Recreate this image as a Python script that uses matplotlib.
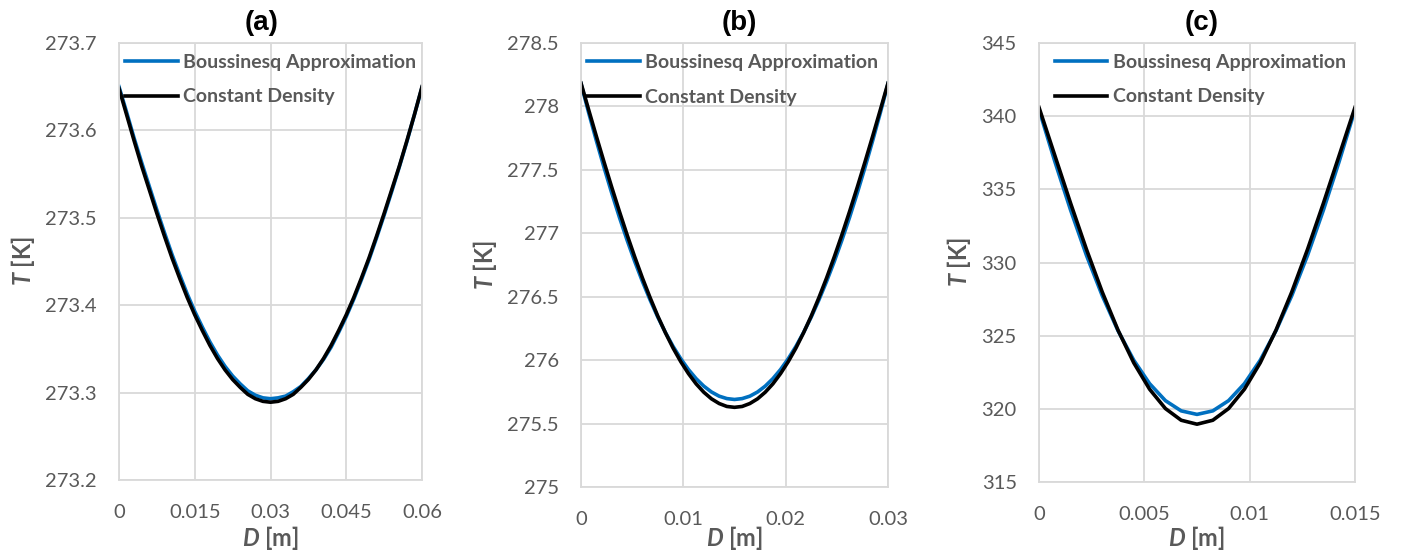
import numpy as np
import matplotlib
matplotlib.use('Agg')
import matplotlib.pyplot as plt
from matplotlib.ticker import FuncFormatter

plt.rcParams['font.family'] = ['Lato', 'DejaVu Sans']
plt.rcParams['mathtext.fontset'] = 'custom'
plt.rcParams['mathtext.it'] = 'Lato:italic:bold'
plt.rcParams['mathtext.rm'] = 'Lato:bold'

# ---- data ----
D_a = np.linspace(0.0, 0.06, 41)
T_a_bous = [273.650, 273.621, 273.591, 273.563, 273.536, 273.509, 273.483, 273.458,
            273.435, 273.413, 273.393, 273.375, 273.358, 273.343, 273.330, 273.319,
            273.310, 273.302, 273.297, 273.294, 273.293,
            273.294, 273.296, 273.301, 273.307, 273.316, 273.326, 273.338, 273.352,
            273.369, 273.387, 273.407, 273.429, 273.452, 273.477, 273.503, 273.530,
            273.558, 273.587, 273.618, 273.649]
T_a_const = [273.648, 273.618, 273.588, 273.559, 273.532, 273.505, 273.479, 273.454,
             273.431, 273.409, 273.389, 273.371, 273.354, 273.339, 273.326, 273.315,
             273.306, 273.298, 273.293, 273.290, 273.289,
             273.290, 273.293, 273.298, 273.306, 273.315, 273.326, 273.339, 273.354,
             273.371, 273.389, 273.409, 273.431, 273.454, 273.479, 273.505, 273.532,
             273.559, 273.588, 273.618, 273.650]

D_b = np.linspace(0.0, 0.03, 41)
T_b_bous = [278.180, 277.950, 277.730, 277.519, 277.318, 277.127, 276.947, 276.778,
            276.621, 276.475, 276.340, 276.218, 276.108, 276.011, 275.926, 275.854,
            275.795, 275.749, 275.716, 275.697, 275.690,
            275.697, 275.716, 275.749, 275.795, 275.854, 275.926, 276.011, 276.108,
            276.218, 276.340, 276.475, 276.621, 276.778, 276.947, 277.127, 277.318,
            277.519, 277.730, 277.950, 278.180]
T_b_const = [278.184, 277.973, 277.765, 277.562, 277.364, 277.173, 276.989, 276.814,
             276.648, 276.493, 276.348, 276.216, 276.095, 275.988, 275.894, 275.813,
             275.747, 275.695, 275.658, 275.635, 275.628,
             275.635, 275.658, 275.695, 275.747, 275.813, 275.894, 275.988, 276.095,
             276.216, 276.348, 276.493, 276.648, 276.814, 276.989, 277.173, 277.364,
             277.562, 277.765, 277.973, 278.184]

D_c = np.linspace(0.0, 0.015, 21)
T_c_bous = [340.45, 336.91, 333.58, 330.50, 327.74, 325.34, 323.32, 321.72,
            320.56, 319.86, 319.62, 319.86, 320.56, 321.72, 323.32, 325.34,
            327.74, 330.50, 333.58, 336.91, 340.45]
T_c_const = [340.60, 337.32, 334.05, 330.91, 327.99, 325.38, 323.14, 321.34,
             320.02, 319.22, 318.95, 319.22, 320.02, 321.34, 323.14, 325.38,
             327.99, 330.91, 334.05, 337.32, 340.60]

panels = [
    ('(a)', D_a, T_a_bous, T_a_const, [0, 0.015, 0.03, 0.045, 0.06],
     np.arange(273.2, 273.71, 0.1), (273.2, 273.7)),
    ('(b)', D_b, T_b_bous, T_b_const, [0, 0.01, 0.02, 0.03],
     np.arange(275.0, 278.51, 0.5), (275.0, 278.5)),
    ('(c)', D_c, T_c_bous, T_c_const, [0, 0.005, 0.01, 0.015],
     np.arange(315, 345.1, 5), (315, 345)),
]

W, H = 1401, 553
# axes boxes in pixels: left, top, right, bottom
boxes = [(119, 43, 422, 480), (581, 43, 888, 487), (1039, 43, 1355, 482)]
leg_x = [0.02, 0.02, 0.05]
title_x = [262, 739, 1202]

BLUE = '#0070C0'
GREY = '#595959'
GRID = '#D9D9D9'

fig = plt.figure(figsize=(W / 100, H / 100), dpi=100)

for (name, D, tb, tc, xt, yt, ylim), (l, t, r, b), lx, tx in zip(panels, boxes, leg_x, title_x):
    ax = fig.add_axes([l / W, 1 - b / H, (r - l) / W, (b - t) / H])
    ax.plot(D, tb, color=BLUE, lw=2.6, label='Boussinesq Approximation')
    ax.plot(D, tc, color='black', lw=2.6, label='Constant Density')
    ax.set_xlim(xt[0], xt[-1])
    ax.set_ylim(*ylim)
    ax.set_xticks(xt)
    ax.set_yticks(yt)
    fmt = FuncFormatter(lambda v, p: ('%.4f' % v).rstrip('0').rstrip('.'))
    ax.xaxis.set_major_formatter(fmt)
    ax.yaxis.set_major_formatter(fmt)
    ax.tick_params(length=0, labelsize=14.5, colors=GREY)
    ax.tick_params(axis='x', pad=17)
    ax.tick_params(axis='y', pad=16)
    ax.grid(True, color=GRID, lw=1.3)
    ax.set_axisbelow(True)
    for sp in ax.spines.values():
        sp.set_color(GRID)
        sp.set_linewidth(1.3)
    ax.set_ylabel(r'$T$ [K]', fontsize=17, fontweight='bold', color=GREY, labelpad=6)
    leg = ax.legend(loc='upper left', bbox_to_anchor=(lx, 0.975), frameon=False,
                    borderaxespad=0, borderpad=0, handlelength=2.7,
                    handletextpad=0.3, labelspacing=0.9,
                    prop={'size': 14, 'weight': 'bold'})
    for txt in leg.get_texts():
        txt.set_color(GREY)
    # x label placed at the same height in all three panels
    fig.text((l + r) / 2 / W, 1 - 538 / H, r'$D$ [m]', ha='center', va='center',
             fontsize=17, fontweight='bold', color=GREY)
    fig.text(tx / W, 1 - 30 / H, name, ha='center', va='baseline',
             fontsize=20, fontweight='bold', family='Liberation Sans')

fig.savefig('out.png', dpi=100)
